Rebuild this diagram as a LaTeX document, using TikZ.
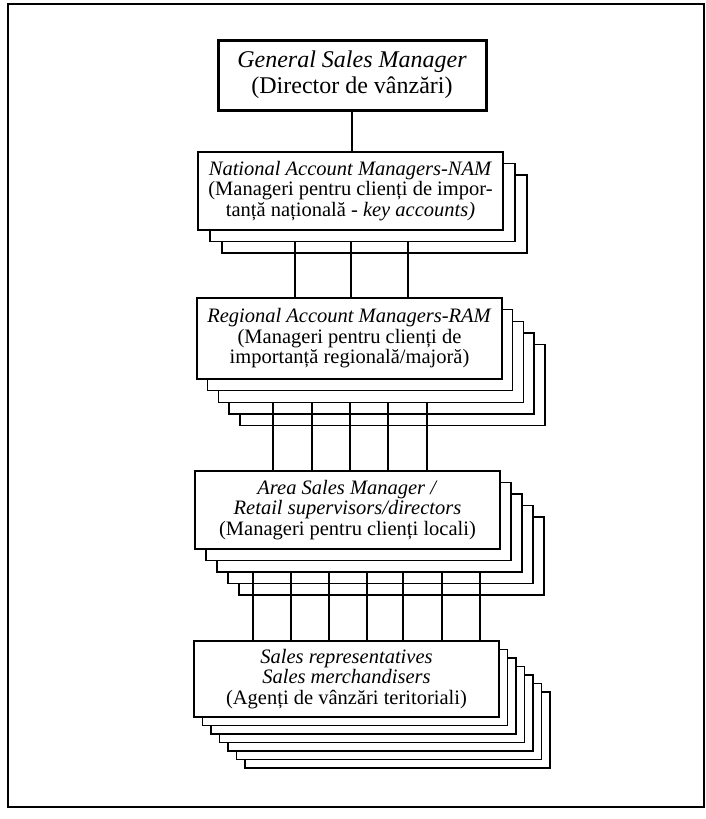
\documentclass[tikz,border=0pt]{standalone}
\usepackage{fontspec}
\setmainfont{Liberation Serif}
\begin{document}
\begin{tikzpicture}[x=1pt,y=-1pt,
  layer/.style={draw, fill=white, line width=1.4pt, inner sep=0pt, outer sep=0pt},
  topbox/.style={draw, fill=white, line width=3pt, inner sep=0pt, outer sep=0pt,
     minimum width=268pt, minimum height=70pt, align=center,
     font=\fontsize{24}{26}\selectfont},
  txt/.style={align=center, font=\fontsize{20.5}{20.5}\selectfont},
  conn/.style={line width=1.4pt},
  frame/.style={draw, line width=1.2pt}]
\useasboundingbox (0,0) rectangle (706,819);
\draw[frame] (8,4) rectangle (704,807);

% top box
\node[topbox] (gsm) at (352,75) {\textit{General Sales Manager}\\(Director de vânzări)};

% NAM stack: 3 boxes
\foreach \i in {2,1} {
  \node[layer, minimum width=305pt, minimum height=78pt] (nam\i) at ({350.5+12*\i},{191+11.5*\i}) {};
}
\node[layer, minimum width=305pt, minimum height=78pt, txt] (nam0) at (350.5,191)
  {\textit{National Account Managers-NAM}\\(Manageri pentru clienți de impor-\\tanță națională - \textit{key accounts)}};

% RAM stack: 5 boxes
\foreach \i in {4,3,2,1} {
  \node[layer, minimum width=305pt, minimum height=81pt] (ram\i) at ({349.5+10.7*\i},{338.5+11.6*\i}) {};
}
\node[layer, minimum width=305pt, minimum height=81pt, txt] (ram0) at (349.5,338.5)
  {\textit{Regional Account Managers-RAM}\\(Manageri pentru clienți de\\importanță regională/majoră)};

% Area stack: 5 boxes
\foreach \i in {4,3,2,1} {
  \node[layer, minimum width=305pt, minimum height=78pt] (area\i) at ({347.5+11*\i},{510+11.5*\i}) {};
}
\node[layer, minimum width=305pt, minimum height=78pt, txt] (area0) at (347.5,510)
  {\textit{Area Sales Manager /}\\\textit{Retail supervisors/directors}\\(Manageri pentru clienți locali)};

% Sales stack: 7 boxes
\foreach \i in {6,5,4,3,2,1} {
  \node[layer, minimum width=305pt, minimum height=76pt] (sal\i) at ({346.5+8.5*\i},{679+8.5*\i}) {};
}
\node[layer, minimum width=305pt, minimum height=76pt, txt] (sal0) at (346.5,679)
  {\textit{Sales representatives}\\\textit{Sales merchandisers}\\(Agenți de vânzări teritoriali)};

% connectors
\draw[conn] (gsm.south) -- (gsm.south |- nam0.north);
\foreach \xx [count=\k] in {295,351,408} {
  \coordinate (cn\k) at (\xx,0);
  \draw[conn] (nam1.south -| cn\k) -- (ram0.north -| cn\k);
}
\foreach \xx [count=\k] in {273,312,350,388,427} {
  \coordinate (cr\k) at (\xx,0);
  \draw[conn] (ram2.south -| cr\k) -- (area0.north -| cr\k);
}
\foreach \xx [count=\k] in {253,291,329,367,403,442,480} {
  \coordinate (ca\k) at (\xx,0);
  \draw[conn] (area2.south -| ca\k) -- (sal0.north -| ca\k);
}
\end{tikzpicture}
\end{document}
